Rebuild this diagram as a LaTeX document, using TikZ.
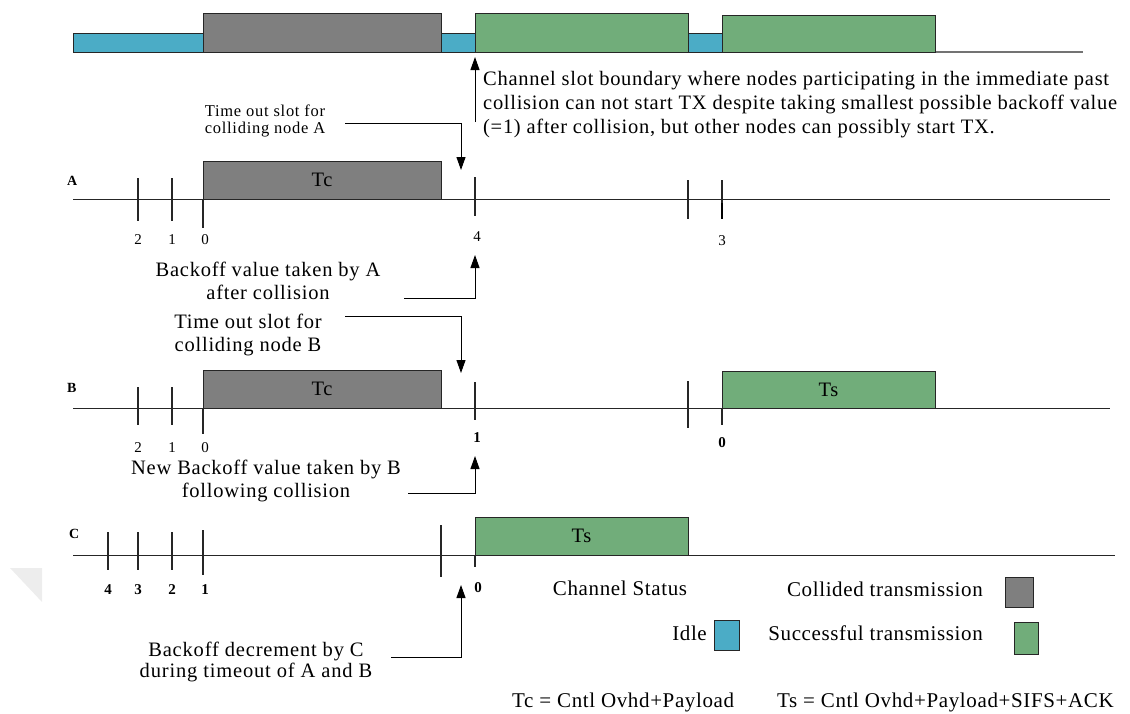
\documentclass[tikz,border=0pt]{standalone}
\usepackage{fontspec}
\setmainfont{Liberation Serif}
\usetikzlibrary{arrows.meta}

\definecolor{idlec}{HTML}{4BACC6}
\definecolor{collc}{HTML}{7F7F7F}
\definecolor{succc}{HTML}{71AD7A}
\definecolor{linec}{HTML}{262626}

% text sizes, slightly tracked
\newcommand{\bigtxt}{\fontsize{20.5}{23}\selectfont\addfontfeature{LetterSpace=3.7}}
\newcommand{\smalltxt}{\fontsize{16.5}{17.5}\selectfont\addfontfeature{LetterSpace=4.4}}
\newcommand{\legtxt}{\fontsize{21}{24}\selectfont\addfontfeature{LetterSpace=3}}

\tikzset{
  box/.style={draw=linec, line width=1pt, inner sep=0pt, outer sep=0pt, anchor=south west},
  idlebox/.style={box, fill=idlec},
  collbox/.style={box, fill=collc},
  succbox/.style={box, fill=succc},
  slotbox/.style={font=\bigtxt},
  axis/.style={draw=linec, line width=1pt},
  tickmark/.style={draw=linec, line width=1.1pt},
  num/.style={font=\fontsize{15}{17}\selectfont, inner sep=0pt},
  bnum/.style={font=\fontsize{15}{17}\selectfont\bfseries, inner sep=0pt},
  rowname/.style={font=\fontsize{14}{16}\selectfont\bfseries, inner sep=0pt, anchor=west},
  note/.style={align=center, inner sep=0pt, font=\bigtxt},
  pointer/.style={draw=black, line width=1pt, -{Triangle[width=9pt,length=13pt]}},
  legend/.style={font=\legtxt, inner sep=0pt},
}

\begin{document}
\begin{tikzpicture}[x=1pt,y=-1pt]
\useasboundingbox (0,0) rectangle (1130,713);

% faint corner mark at the left edge
\fill[black!7] (10,568) -- (42,568) -- (42,602) -- cycle;

% ---------------- channel status bar ----------------
\draw[draw=black!55, line width=1.2pt] (73,52) -- (1083,52);
\node[idlebox, minimum width=130pt, minimum height=19pt] (ch1) at (73,52) {};
\node[collbox, minimum width=238pt, minimum height=39pt] (ch2) at (203,52) {};
\node[idlebox, minimum width=34pt, minimum height=19pt] (ch3) at (441,52) {};
\node[succbox, minimum width=213pt, minimum height=39pt] (ch4) at (475,52) {};
\node[idlebox, minimum width=34pt, minimum height=19pt] (ch5) at (688,52) {};
\node[succbox, minimum width=213pt, minimum height=37pt] (ch6) at (722,52) {};

% slot boundary pointer and its explanation
\coordinate (sbtail) at (475,122);
\coordinate (sbtip) at (475,57);
\draw[pointer] (sbtail) -- (sbtip);
\node[anchor=north west, align=left, inner sep=0pt,
      font=\fontsize{20.5}{24}\selectfont\addfontfeature{LetterSpace=3.5}] (sbnote) at (483,71)
  {Channel slot boundary where nodes participating in the immediate past\\
   collision can not start TX despite taking smallest possible backoff value\\
   (=1) after collision, but other nodes can possibly start TX.};

% ---------------- node A ----------------
\node[rowname] (labA) at (67,181) {A};
\draw[axis] (73,199) -- (1110,199);
\node[collbox, minimum width=238pt, minimum height=38pt, slotbox] (tcA) at (203,199) {Tc};
\draw[tickmark] (138,178) -- (138,221);
\draw[tickmark] (172,178) -- (172,221);
\draw[tickmark] (203,199) -- (203,228);
\draw[tickmark] (475,177) -- (475,216);
\draw[tickmark] (688,180) -- (688,219);
\draw[tickmark] (722,180) -- (722,219);
\draw[draw=black, line width=2pt] (722,203) -- (722,219);
\node[num] (a2) at (138,240) {2};
\node[num] (a1) at (172,240) {1};
\node[num] (a0) at (205,240) {0};
\node[num] (a4) at (477,237) {4};
\node[num] (a3) at (722,241) {3};

\node[note, font=\smalltxt] (toA) at (265,121)
  {Time out slot for\\colliding node A};
\coordinate (toAs) at (345,123);
\coordinate (toAtip) at (461,170);
\draw[pointer] (toAs) -| (toAtip);

\node[note] (boA) at (268,281)
  {Backoff value taken by A\\after collision};
\coordinate (boAs) at (404,298);
\coordinate (boAtip) at (475,255);
\draw[pointer] (boAs) -| (boAtip);

\node[note] (toB) at (248,335)
  {Time out slot for\\colliding node B};
\coordinate (toBs) at (345,316);
\coordinate (toBtip) at (461,373);
\draw[pointer] (toBs) -| (toBtip);

% ---------------- node B ----------------
\node[rowname] (labB) at (67,388) {B};
\draw[axis] (73,408) -- (1110,408);
\node[collbox, minimum width=238pt, minimum height=38pt, slotbox] (tcB) at (203,408) {Tc};
\node[succbox, minimum width=213pt, minimum height=37pt, slotbox] (tsB) at (722,408) {Ts};
\draw[tickmark] (138,387) -- (138,425);
\draw[tickmark] (172,387) -- (172,425);
\draw[tickmark] (203,408) -- (203,434);
\draw[tickmark] (475,382) -- (475,420);
\draw[tickmark] (688,381) -- (688,428);
\draw[tickmark] (722,408) -- (722,425);
\node[num] (b2) at (138,448) {2};
\node[num] (b1) at (172,448) {1};
\node[num] (b0) at (205,448) {0};
\node[bnum] (b1n) at (477,438) {1};
\node[bnum] (b0n) at (722,443) {0};

\node[note] (nbB) at (266,481)
  {New Backoff value taken by B\\following collision};
\coordinate (nbBs) at (408,493);
\coordinate (nbBtip) at (475,456);
\draw[pointer] (nbBs) -| (nbBtip);

% ---------------- node C ----------------
\node[rowname] (labC) at (69,534) {C};
\draw[axis] (73,555) -- (1115,555);
\node[succbox, minimum width=213pt, minimum height=38pt, slotbox] (tsC) at (475,555) {Ts};
\draw[tickmark] (108,532) -- (108,570);
\draw[tickmark] (138,532) -- (138,570);
\draw[tickmark] (172,532) -- (172,570);
\draw[tickmark] (203,530) -- (203,575);
\draw[tickmark] (441,525) -- (441,577);
\draw[tickmark] (475,555) -- (475,567);
\node[bnum] (c4) at (108,590) {4};
\node[bnum] (c3) at (138,590) {3};
\node[bnum] (c2) at (172,590) {2};
\node[bnum] (c1) at (205,590) {1};
\node[bnum] (c0) at (478,588) {0};

\node[note, font=\fontsize{20.5}{21.5}\selectfont\addfontfeature{LetterSpace=4}] (bdC) at (256,662)
  {Backoff decrement by C\\during timeout of A and B};
\coordinate (bdCs) at (391,657);
\coordinate (bdCtip) at (461,585);
\draw[pointer] (bdCs) -| (bdCtip);

% ---------------- legend ----------------
\node[legend] (lgst) at (620,588) {Channel Status};
\node[legend, anchor=east] (lgcol) at (983,589) {Collided transmission};
\node[collbox, anchor=north west, minimum width=28pt, minimum height=30pt] (lgcolb) at (1005,577) {};
\node[legend, anchor=east] (lgidle) at (707,633) {Idle};
\node[idlebox, anchor=north west, minimum width=25pt, minimum height=30pt] (lgidleb) at (714,620) {};
\node[legend, anchor=east] (lgsuc) at (983,633) {Successful transmission};
\node[succbox, anchor=north west, minimum width=24pt, minimum height=32pt] (lgsucb) at (1014,622) {};

\node[legend, anchor=west] (tcdef) at (512,702) {Tc = Cntl Ovhd+Payload};
\node[legend, anchor=west] (tsdef) at (777,702) {Ts = Cntl Ovhd+Payload+SIFS+ACK};
\end{tikzpicture}
\end{document}
